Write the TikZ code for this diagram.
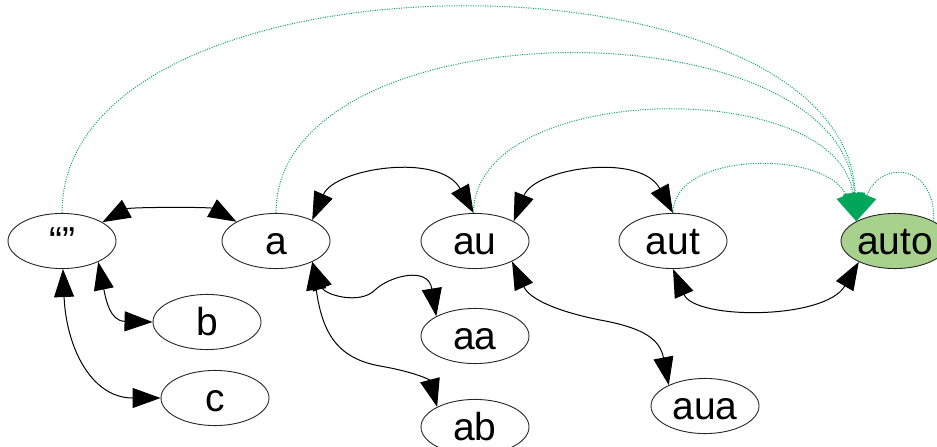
\documentclass[tikz,border=0pt]{standalone}
\usepackage{fontspec}
\setmainfont{Liberation Sans}
\usetikzlibrary{arrows.meta,shapes.geometric}
\definecolor{hintgreen}{HTML}{00A65A}
\definecolor{autofill}{HTML}{A9D18E}
\begin{document}
\begin{tikzpicture}[x=1pt,y=-1pt,
  wnode/.style={ellipse,draw=black!85,line width=0.9pt,minimum width=108pt,
    minimum height=54pt,inner sep=0pt,font=\fontsize{39}{40}\selectfont,
    text height=33pt,text depth=6pt},
  link/.style={draw=black,line width=1pt,
    {Triangle[length=28pt,width=20pt]}-{Triangle[length=28pt,width=20pt]}},
  hint/.style={draw=hintgreen,line width=1pt,dash pattern=on 1pt off 1.4pt,
    -{Triangle[length=28pt,width=20pt]}}]
\useasboundingbox (0,0) rectangle (937,447);

% prefix nodes
\node[wnode] (E) at (62,241) {“”};
\node[wnode] (A) at (276,241) {a};
\node[wnode] (AU) at (475,241) {au};
\node[wnode] (AUT) at (673,241) {aut};
\node[wnode,fill=autofill] (AUTO) at (895,241) {auto};
\node[wnode] (B) at (207,322) {b};
\node[wnode] (C) at (215,398) {c};
\node[wnode] (AA) at (475,336) {aa};
\node[wnode] (AB) at (475,427) {ab};
\node[wnode] (AUA) at (705,406) {aua};

% parent/child links
\draw[link] (E.25) .. controls (130,207) and (210,207) .. (A.154);
\draw[link] (A.30) .. controls (335,168) and (440,152) .. (AU.93);
\draw[link] (AU.27) .. controls (535,168) and (640,152) .. (AUT.north);
\draw[link] (AUT.south) .. controls (695,320) and (825,320) .. (AUTO.210);
\draw[link] (E.-30) .. controls (106,300) and (110,321) .. (B.west);
\draw[link] (E.-88) .. controls (66,345) and (90,398) .. (C.west);
\draw[link] (A.-30) .. controls (325,295) and (360,305) .. (375,290)
  .. controls (388,277) and (428,265) .. (AA.153);
\draw[link] (A.-30) .. controls (322,330) and (335,358) .. (380,366)
  .. controls (415,372) and (430,380) .. (AB.152);
\draw[link] (AU.-29) .. controls (530,300) and (560,312) .. (600,320)
  .. controls (645,328) and (660,340) .. (AUA.150);

% dotted links into the final node
\draw[hint] (E.north) .. controls (62,-60) and (845,-60) .. (AUTO.153);
\draw[hint] (A.north) .. controls (276,5) and (842,0) .. (AUTO.153);
\draw[hint] (AU.93) .. controls (474,80) and (838,75) .. (AUTO.153);
\draw[hint] (AUT.north) .. controls (673,150) and (828,150) .. (AUTO.153);
\draw[hint] (AUTO.27) .. controls (936,165) and (882,158) .. (AUTO.153);
\end{tikzpicture}
\end{document}
